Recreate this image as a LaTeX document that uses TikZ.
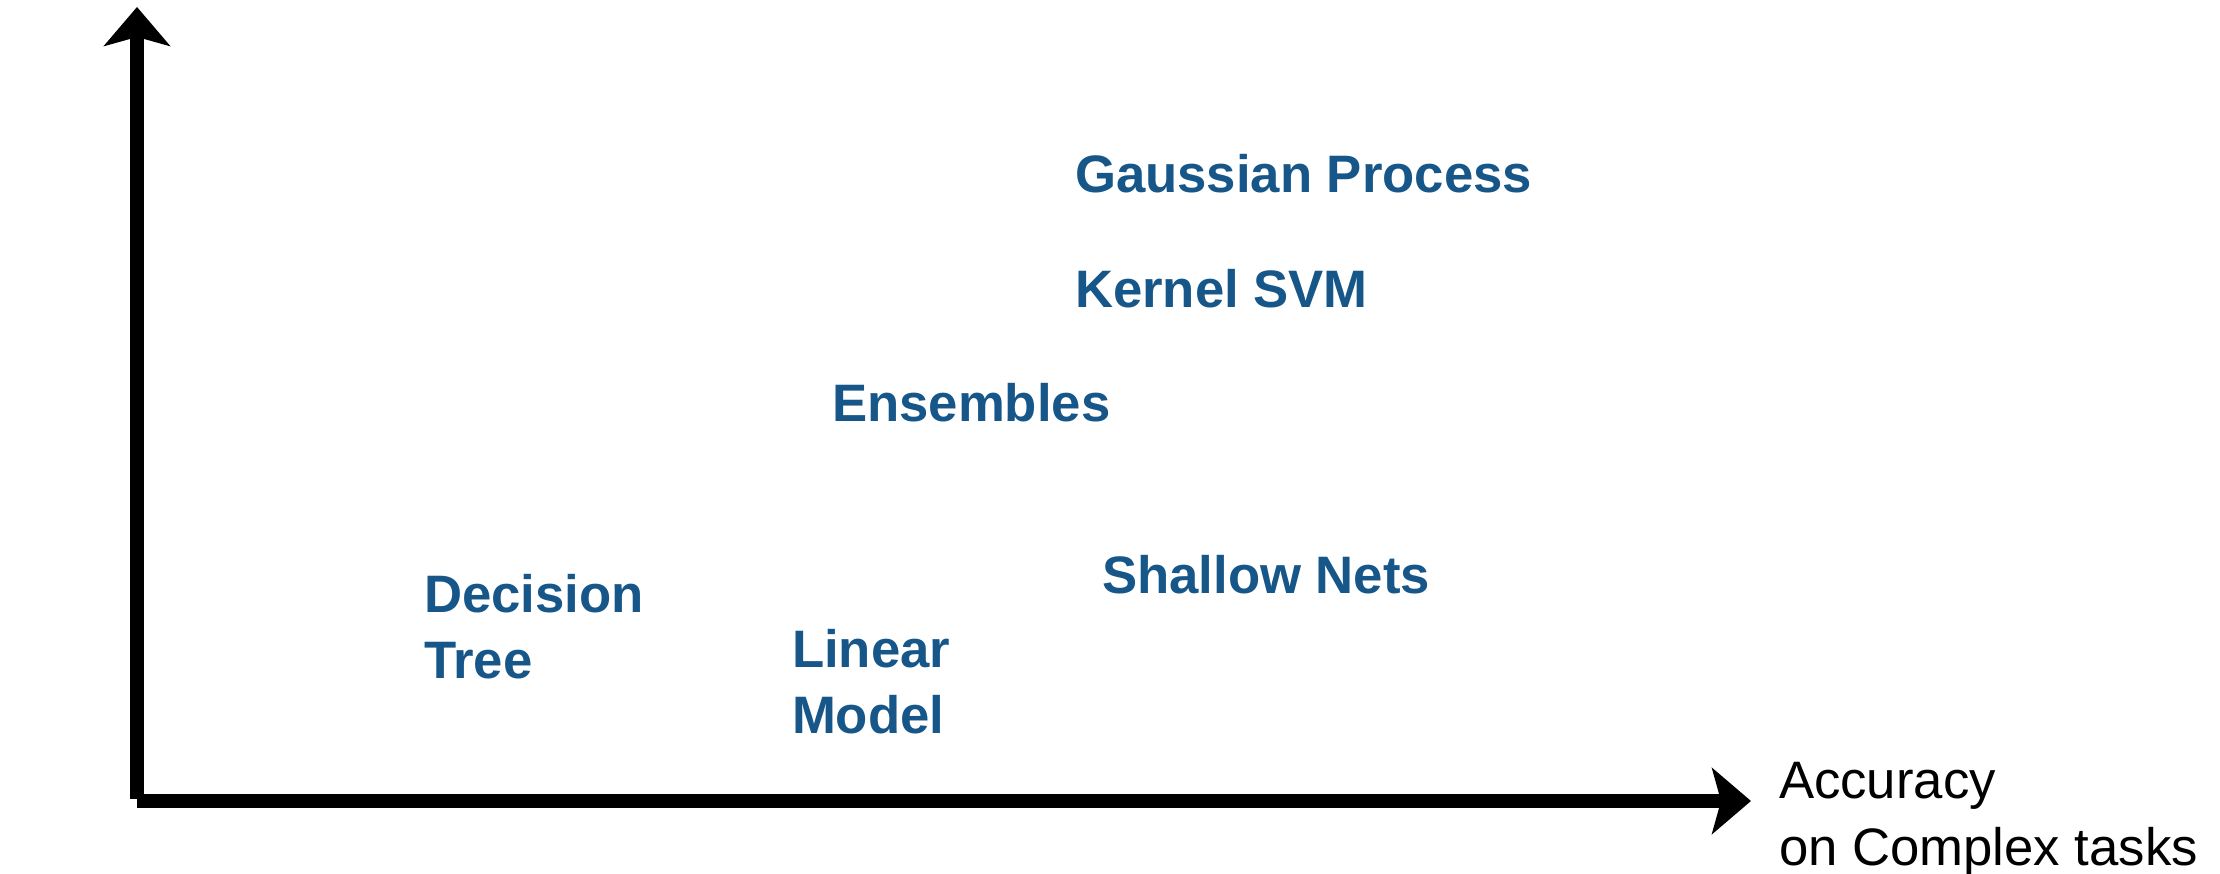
\documentclass[tikz,border=0pt]{standalone}
\usepackage{fontspec}
\setmainfont{Liberation Sans}
\usetikzlibrary{arrows.meta}
\definecolor{modelblue}{RGB}{22,86,136}
\pgfmathsetmacro{\ox}{137}
\pgfmathsetmacro{\oy}{801}

\begin{document}
\begin{tikzpicture}[x=0.02cm, y=-0.02cm, line width=8pt,
  axis/.style={-{Stealth[length=0.78cm, width=1.32cm, inset=0.18cm]}},
  model/.style={anchor=base west, inner sep=0pt, align=left, text=modelblue,
    font=\fontsize{30}{37}\selectfont\bfseries}]

\useasboundingbox (0,0) rectangle (2220,874);

% axes
\coordinate (yfoot) at (\ox,\oy-2);
\coordinate (ytip) at (\ox,7);
\coordinate (xfoot) at (\ox,\oy);
\coordinate (xtip) at (1751,\oy);
\draw[axis] (yfoot) -- (ytip);
\draw[axis] (xfoot) -- (xtip);
% base of a two-line node = baseline of its last line
\node[anchor=base west, inner sep=0pt, align=left,
  font=\fontsize{30}{38}\selectfont] (xlabel) at (1772,865)
  {Accuracy\\on Complex tasks};

% models
\node[model] (gp) at (1068,193) {Gaussian Process};
\node[model] (svm) at (1068,308) {Kernel SVM};
\node[model] (ens) at (825,422) {Ensembles};
\node[model] (nets) at (1095,593) {Shallow Nets};
\node[model] (tree) at (417,678) {Decision\\Tree};
\node[model] (lin) at (785,733) {Linear\\Model};
\end{tikzpicture}
\end{document}
